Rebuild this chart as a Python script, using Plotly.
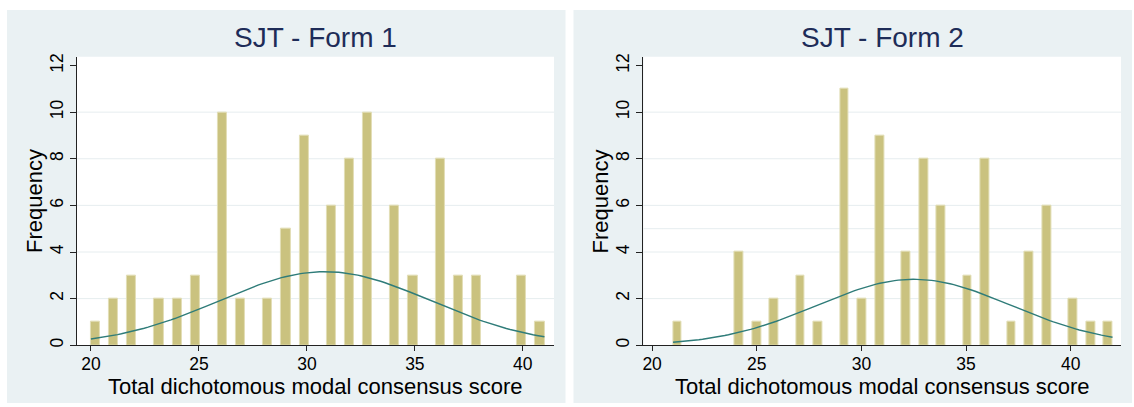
import math
import numpy as np
import plotly.graph_objects as go

# ---- data ----
scores1 = [20, 21, 22, 23, 24, 25, 26, 27, 28, 29, 30, 31, 32, 33, 34, 35, 36, 37, 38, 40, 41]
counts1 = [1, 2, 3, 2, 2, 3, 10, 2, 2, 5, 9, 6, 8, 10, 6, 3, 8, 3, 3, 3, 1]
scores2 = [21, 24, 25, 26, 27, 28, 29, 30, 31, 32, 33, 34, 35, 36, 37, 38, 39, 40, 41, 42]
counts2 = [1, 4, 1, 2, 3, 1, 11, 2, 9, 4, 8, 6, 3, 8, 1, 4, 6, 2, 1, 1]
titles = ["SJT - Form 1", "SJT - Form 2"]
x_title = "Total dichotomous modal consensus score"
y_title = "Frequency"
x_ticks = [20, 25, 30, 35, 40]
y_ticks = [0, 2, 4, 6, 8, 10, 12]
grid_vals = [[2, 4, 6, 8, 10], [2, 4, 5, 6, 8, 10]]
n_bins = 50

W, H = 1134, 407
BAR_FILL = "#CAC27F"
BAR_LINE = "#E2DEB6"
CURVE = "#2F7C79"
PANEL_BG = "#EAF1F3"
GRID = "#E6EDEF"
TITLE_C = "#1E2C58"
FONT = "Liberation Sans, Arial, sans-serif"


def px_x(v):
    return v / W


def px_y(v):
    return 1 - v / H


def hist_positions(scores, counts):
    lo, hi = min(scores), max(scores)
    w = (hi - lo) / n_bins
    centers = []
    for s in scores:
        k = min(int(math.floor((s - lo) / w + 1e-9)), n_bins - 1)
        centers.append(lo + (k + 0.5) * w)
    return centers, w, lo, hi


def normal_curve(scores, counts, w, lo, hi):
    s = np.array(scores, float)
    c = np.array(counts, float)
    n = c.sum()
    mu = (s * c).sum() / n
    sd = math.sqrt(((s - mu) ** 2 * c).sum() / (n - 1))
    xs = np.linspace(lo, hi, 120)
    ys = n * w * np.exp(-0.5 * ((xs - mu) / sd) ** 2) / (sd * math.sqrt(2 * math.pi))
    return xs, ys


fig = go.Figure()

panels = [
    dict(scores=scores1, counts=counts1, xa="x", ya="y", xdom=(76, 553.5), xr=(19.352, 41.443),
         bg=(6, 565)),
    dict(scores=scores2, counts=counts2, xa="x2", ya="y2", xdom=(643, 1121), xr=(19.585, 42.406),
         bg=(573, 1132)),
]
y_top, y_bot = 54.3, 346.5
y_range = [0, (y_bot - y_top) / 23.6]

shapes = []
annotations = []
for i, p in enumerate(panels):
    centers, w, lo, hi = hist_positions(p["scores"], p["counts"])
    fig.add_trace(go.Bar(
        x=centers, y=p["counts"], width=w, xaxis=p["xa"], yaxis=p["ya"],
        marker=dict(color=BAR_FILL, line=dict(color=BAR_LINE, width=1)),
        showlegend=False, hoverinfo="x+y"))
    xs, ys = normal_curve(p["scores"], p["counts"], w, lo, hi)
    fig.add_trace(go.Scatter(
        x=xs, y=ys, mode="lines", xaxis=p["xa"], yaxis=p["ya"],
        line=dict(color=CURVE, width=1.4), showlegend=False, hoverinfo="skip"))
    # panel background
    shapes.append(dict(type="rect", xref="paper", yref="paper", layer="below",
                       x0=px_x(p["bg"][0]), x1=px_x(p["bg"][1]), y0=px_y(405), y1=px_y(7),
                       fillcolor=PANEL_BG, line=dict(width=0)))
    shapes.append(dict(type="rect", xref="paper", yref="paper", layer="below",
                       x0=px_x(p["xdom"][0]), x1=px_x(p["xdom"][1]), y0=px_y(y_bot), y1=px_y(y_top),
                       fillcolor="white", line=dict(width=0)))
    for g in grid_vals[i]:
        shapes.append(dict(type="line", xref=p["xa"] + " domain", yref=p["ya"], x0=0, x1=1,
                           y0=g, y1=g, layer="below", line=dict(color=GRID, width=1)))
    cx = (p["xdom"][0] + p["xdom"][1]) / 2
    annotations.append(dict(text=titles[i], xref="paper", yref="paper", x=px_x(cx), y=px_y(35),
                            xanchor="center", yanchor="middle", showarrow=False,
                            font=dict(family=FONT, size=28, color=TITLE_C)))
    annotations.append(dict(text=x_title, xref="paper", yref="paper", x=px_x(cx), y=px_y(388),
                            xanchor="center", yanchor="middle", showarrow=False,
                            font=dict(family=FONT, size=22, color="black")))
    annotations.append(dict(text=y_title, xref="paper", yref="paper", x=px_x(p["xdom"][0] - 43),
                            y=px_y(200.5), xanchor="center", yanchor="middle", showarrow=False,
                            textangle=-90, font=dict(family=FONT, size=22, color="black")))

axis_common = dict(showline=True, linecolor="#222222", linewidth=1, ticks="outside",
                   tickcolor="#222222", tickwidth=1, zeroline=False, showgrid=False,
                   tickfont=dict(family=FONT, size=17.5, color="black"))

layout = dict(
    width=W, height=H, margin=dict(l=0, r=0, t=0, b=0),
    paper_bgcolor="white", plot_bgcolor="rgba(0,0,0,0)",
    bargap=0, shapes=shapes, annotations=annotations,
    font=dict(family=FONT),
)
for i, p in enumerate(panels):
    sfx = "" if i == 0 else "2"
    layout["xaxis" + sfx] = dict(domain=[px_x(p["xdom"][0]), px_x(p["xdom"][1])], range=list(p["xr"]),
                                 tickvals=x_ticks, ticklen=5, ticklabelstandoff=-2,
                                 anchor="y" + sfx, **axis_common)
    layout["yaxis" + sfx] = dict(domain=[px_y(y_bot), px_y(y_top)], range=y_range, tickvals=y_ticks,
                                 ticklen=6, tickangle=-90, anchor="x" + sfx, **axis_common)
fig.update_layout(**layout)

fig.write_html(
    "out.html",
    config={"displayModeBar": False},
    post_script="document.body.style.margin='0px';document.body.style.padding='0px';"
                "document.body.style.overflow='hidden';",
)
